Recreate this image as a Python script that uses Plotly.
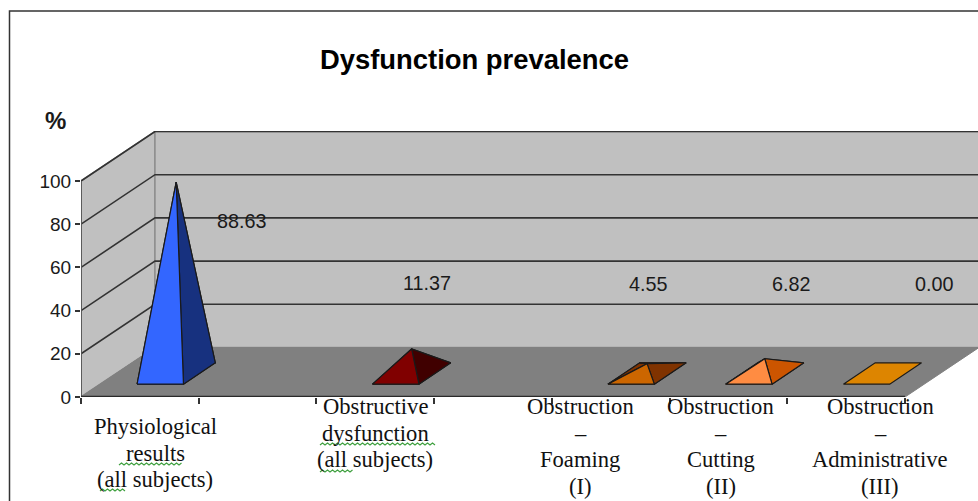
import plotly.graph_objects as go

TITLE = "Dysfunction prevalence"
UNIT = "%"
slots = [0.5, 2.5, 4.5, 5.5, 6.5]
values = [88.63, 11.37, 4.55, 6.82, 0.00]
labels = [["Physiological", "results", "(all subjects)"],
          ["Obstructive", "dysfunction", "(all subjects)"],
          ["Obstruction", "–", "Foaming", "(I)"],
          ["Obstruction", "–", "Cutting", "(II)"],
          ["Obstruction", "–", "Administrative", "(III)"]]
front_colors = ["#3366FF", "#800000", "#CC6600", "#FF8C42", "#DD8500"]
side_colors = ["#17317F", "#400000", "#803300", "#CC5500", "#DD8500"]
y_ticks = [0, 20, 40, 60, 80, 100]
n_slots = 7

W, H = 978, 501
L, R_EDGE, TOP, BOT = 81, 978, 131, 397
PX_X = (905 - 81) / n_slots
PX_Y = (397 - 181) / 100
DX = 74 / PX_X      # x shift of full depth, axis units
DY = 49.5 / PX_Y    # y shift of full depth, axis units
HALF = 0.197
SHIFT = 0.01
D0, D1 = 0.26, 0.69


def proj(x, depth, v):
    return x + depth * DX, v + depth * DY


def px(x):
    return (x - L) / (R_EDGE - L)


def py(y):
    return (BOT - y) / (BOT - TOP)


def poly(points, fill, line_color, width=1, clip=True):
    xs = [p[0] for p in points] + [points[0][0]]
    ys = [p[1] for p in points] + [points[0][1]]
    return go.Scatter(x=xs, y=ys, mode="lines", fill="toself", fillcolor=fill,
                      line=dict(color=line_color, width=width), hoverinfo="skip",
                      showlegend=False, cliponaxis=clip)


fig = go.Figure()
# walls and floor
fig.add_trace(poly([proj(0, 0, 0), proj(0, 1, 0), proj(0, 1, 100), proj(0, 0, 100)], "#C0C0C0", "#808080", 1.5))
fig.add_trace(poly([proj(0, 1, 0), proj(n_slots, 1, 0), proj(n_slots, 1, 100), proj(0, 1, 100)], "#C0C0C0", "#909090", 1.5))

# gridlines
gx, gy = [], []
for v in y_ticks[1:]:
    a, b, c = proj(0, 0, v), proj(0, 1, v), proj(n_slots, 1, v)
    gx += [a[0], b[0], c[0], None]
    gy += [a[1], b[1], c[1], None]
fig.add_trace(go.Scatter(x=gx, y=gy, mode="lines", line=dict(color="#333333", width=1.6),
                         hoverinfo="skip", showlegend=False))

fig.add_trace(poly([proj(0, 0, 0), proj(n_slots, 0, 0), proj(n_slots, 1, 0), proj(0, 1, 0)], "#808080", "#808080", 1))

# front axes
fig.add_trace(go.Scatter(x=[0, 0], y=[100, 0], mode="lines", cliponaxis=False,
                         line=dict(color="#555555", width=1.8), hoverinfo="skip", showlegend=False))
fig.add_trace(go.Scatter(x=[0, n_slots], y=[0, 0], mode="lines", cliponaxis=False,
                         line=dict(color="#2A2A2A", width=2.5), hoverinfo="skip", showlegend=False))

# pyramids
for s, v, fc, sc in zip(slots, values, front_colors, side_colors):
    c = s + SHIFT
    fl, fr = proj(c - HALF, D0, 0), proj(c + HALF, D0, 0)
    bl, br = proj(c - HALF, D1, 0), proj(c + HALF, D1, 0)
    apex = proj(c, (D0 + D1) / 2, v)
    fig.add_trace(poly([fl, fr, br, bl], fc, "#1A1A1A", 1.2))
    if v > 0:
        fig.add_trace(poly([fl, bl, apex], sc, "#1A1A1A", 1.2))
        fig.add_trace(poly([bl, br, apex], sc, "#1A1A1A", 1.2))
        fig.add_trace(poly([fr, br, apex], sc, "#1A1A1A", 1.2))
        fig.add_trace(poly([fl, fr, apex], fc, "#1A1A1A", 1.2))

annos = []
# value labels
for t, xp, yp in zip(values, [242, 427, 648, 791, 934], [221, 283, 284, 284, 284]):
    annos.append(dict(text=f"{t:.2f}", x=px(xp), y=py(yp), xref="paper", yref="paper",
                      showarrow=False, xanchor="center", yanchor="middle",
                      font=dict(family="Liberation Sans", size=19.8, color="#1A1A1A")))
# category labels, one line at a time
for lines, xp, yp in zip(labels, [155, 375, 580, 720.5, 880], [426.5, 406.5, 406.5, 406.5, 406.5]):
    for i, t in enumerate(lines):
        annos.append(dict(text=t, x=px(xp), y=py(yp + i * 26.6), xref="paper", yref="paper",
                          showarrow=False, xanchor="center", yanchor="middle", align="center",
                          font=dict(family="Liberation Serif", size=22.6, color="#111111")))
annos.append(dict(text=f"<b>{TITLE}</b>", x=px(474.5), y=py(60), xref="paper", yref="paper",
                  showarrow=False, xanchor="center", yanchor="middle",
                  font=dict(family="Liberation Sans", size=27.4, color="#000000")))
annos.append(dict(text=f"<b>{UNIT}</b>", x=px(55), y=py(120), xref="paper", yref="paper",
                  showarrow=False, xanchor="center", yanchor="middle",
                  font=dict(family="Liberation Sans", size=24, color="#1A1A1A")))


def squiggle(x0, x1, y):
    path, x, up = f"M {px(x0)} {py(y)}", x0, True
    while x < x1:
        x += 2.5
        path += f" L {px(x)} {py(y - 2 if up else y)}"
        up = not up
    return dict(type="path", xref="paper", yref="paper", path=path,
                line=dict(color="#3FA03F", width=1.2))


shapes = [squiggle(119, 181, 465), squiggle(100, 125, 491), squiggle(320, 433, 445), squiggle(320, 352, 472)]
# outer frame
shapes.append(dict(type="path", xref="paper", yref="paper",
                   path=f"M {px(9.5)} {py(501)} L {px(9.5)} {py(11)} L {px(978)} {py(11)}",
                   line=dict(color="#333333", width=1.5)))

fig.update_layout(
    width=W, height=H, paper_bgcolor="white", plot_bgcolor="white", showlegend=False,
    margin=dict(l=L, r=W - R_EDGE, t=TOP, b=H - BOT, pad=0),
    annotations=annos, shapes=shapes,
    xaxis=dict(range=[0, (R_EDGE - L) / PX_X], tickvals=list(range(n_slots + 1)), showticklabels=False,
               ticks="outside", ticklen=6, tickwidth=1.5, tickcolor="#333333", showgrid=False,
               zeroline=False, showline=False, fixedrange=True),
    yaxis=dict(range=[0, (BOT - TOP) / PX_Y], tickvals=y_ticks, ticks="outside", ticklen=5, tickwidth=1.5,
               tickcolor="#333333", showgrid=False, zeroline=False, showline=False, fixedrange=True,
               tickfont=dict(family="Liberation Sans", size=19, color="#1A1A1A")),
)
fig.write_html("out.html", config={"displayModeBar": False},
               post_script="document.body.style.margin='0';document.body.style.overflow='hidden';")
